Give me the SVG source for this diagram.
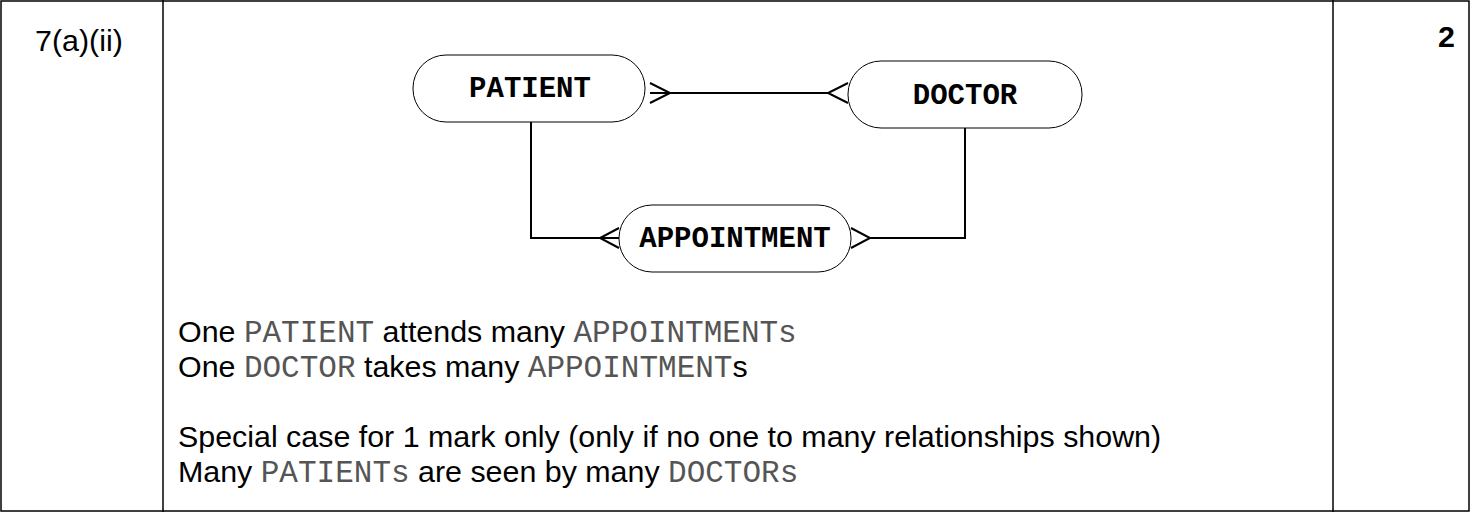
<svg xmlns="http://www.w3.org/2000/svg" width="1470" height="512" viewBox="0 0 1470 512">
<style>
.b{fill:none;stroke:#000;stroke-width:1.5}
.ent{fill:#fff;stroke:#000;stroke-width:1}
.lbl{font-family:"Liberation Mono",monospace;font-weight:bold;font-size:29px;text-anchor:middle}
.t{font-family:"Liberation Sans",Arial,sans-serif;font-size:30.4px}
.m{font-family:"Liberation Mono",monospace;font-size:31px;fill:#555}
.c{fill:none;stroke:#000;stroke-width:2}
</style>
<rect x="1" y="1" width="1468" height="510" class="b"/>
<line x1="163" y1="0" x2="163" y2="512" class="b"/>
<line x1="1333" y1="0" x2="1333" y2="512" class="b"/>
<text x="35" y="51" class="t">7(a)(ii)</text>
<text x="1438" y="47" class="t" font-weight="bold">2</text>
<g id="connectors">
<path class="c" d="M670 93H828"/>
<path class="c" d="M650 83L670 93L650 103M650 93H670"/>
<path class="c" d="M848 83L828 93L848 103"/>
<path class="c" d="M531 122V238H600"/>
<path class="c" d="M619 228L600 238L619 248M600 238H619"/>
<path class="c" d="M870 238H965V128"/>
<path class="c" d="M851 228L870 238L851 248"/>
</g>
<g id="patient"><rect class="ent" x="413" y="55" width="232" height="67" rx="33"/><text class="lbl" x="530" y="97">PATIENT</text></g>
<g id="doctor"><rect class="ent" x="848" y="61" width="234" height="67" rx="33"/><text class="lbl" x="965" y="104">DOCTOR</text></g>
<g id="appointment"><rect class="ent" x="619" y="205" width="232" height="67" rx="33"/><text class="lbl" x="735" y="247">APPOINTMENT</text></g>
<text x="178" y="342" class="t">One <tspan class="m">PATIENT</tspan> attends many <tspan class="m">APPOINTMENTs</tspan></text>
<text x="178" y="377" class="t">One <tspan class="m">DOCTOR</tspan> takes many <tspan class="m">APPOINTMENT</tspan>s</text>
<text x="178" y="447" class="t">Special case for 1 mark only (only if no one to many relationships shown)</text>
<text x="178" y="482" class="t">Many <tspan class="m">PATIENTs</tspan> are seen by many <tspan class="m">DOCTORs</tspan></text>
</svg>
